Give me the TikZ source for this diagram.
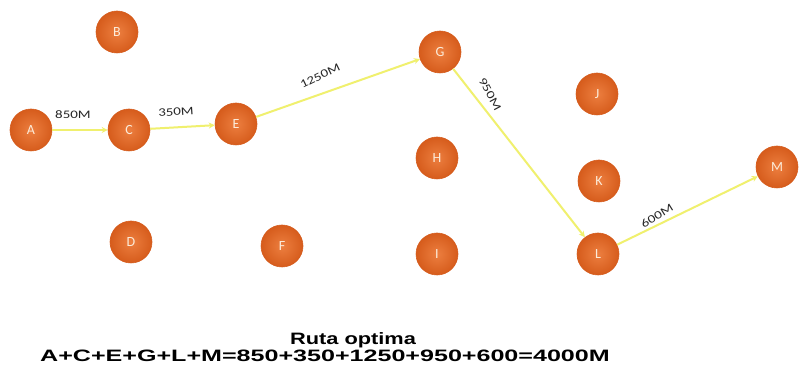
\documentclass[tikz,border=0pt]{standalone}
\usepackage{fontspec}
\usepackage{graphicx}
\setmainfont{Carlito}
\newfontfamily\boldsans{Liberation Sans}
\usetikzlibrary{arrows.meta}
\definecolor{nodeor}{RGB}{234,112,42}
\definecolor{nodeedge}{RGB}{214,92,28}
\definecolor{lettercol}{RGB}{252,236,218}
\definecolor{pathyel}{RGB}{240,240,110}
\newcommand{\wide}[2]{\scalebox{#1}[1]{#2}}
\tikzset{
  city/.style={circle, minimum size=42pt, inner sep=0pt, draw=nodeedge, line width=0.6pt,
    inner color=nodeor!90!white, outer color=nodeedge, text=lettercol, font=\fontsize{14}{14}\selectfont},
  route/.style={draw=pathyel, line width=2pt, -{Stealth[length=6pt,width=6pt]}},
  dist/.style={font=\fontsize{11.5}{11.5}\selectfont, inner sep=0pt, text=black!85},
  sumtext/.style={font=\boldsans\bfseries\fontsize{16.5}{16.5}\selectfont, inner sep=0pt, anchor=base}
}
\begin{document}
\begin{tikzpicture}[x=1pt,y=-1pt]
\useasboundingbox (0,0) rectangle (809,371);
\fill[white] (0,0) rectangle (809,371);
\node[city] (A) at (31,130) {A};
\node[city] (B) at (117,32) {B};
\node[city] (C) at (129,130) {C};
\node[city] (D) at (131,242) {D};
\node[city] (E) at (236,124) {E};
\node[city] (F) at (282,246) {F};
\node[city] (G) at (440,52) {G};
\node[city] (H) at (437,158) {H};
\node[city] (I) at (437,254) {I};
\node[city] (J) at (597,94) {J};
\node[city] (K) at (599,181) {K};
\node[city] (L) at (598,254) {L};
\node[city] (M) at (777,167) {M};
\draw[route] (A) -- (C);
\draw[route] (C) -- (E);
\draw[route] (E) -- (G);
\draw[route] (G) -- (L);
\draw[route] (L) -- (M);
\node[dist] (dAC) at (73,115) {\wide{1.3}{850M}};
\node[dist, rotate=4] (dCE) at (176,112) {\wide{1.3}{350M}};
\node[dist, rotate=26] (dEG) at (320,76) {\wide{1.3}{1250M}};
\node[dist, rotate=-62] (dGL) at (490,94) {\wide{1.3}{950M}};
\node[dist, rotate=32] (dLM) at (657,216) {\wide{1.3}{600M}};
\node[sumtext] (title) at (353,345) {\wide{1.32}{Ruta optima}};
\node[sumtext] (sum) at (325,362) {\wide{1.52}{A+C+E+G+L+M=850+350+1250+950+600=4000M}};
\end{tikzpicture}
\end{document}
